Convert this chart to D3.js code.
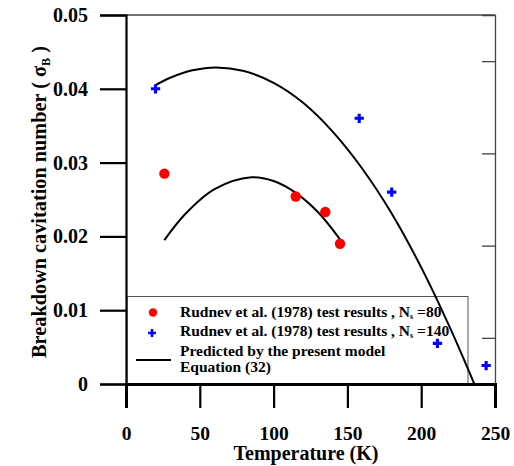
<!DOCTYPE html>
<html>
<head>
<meta charset="utf-8">
<script src="https://cdn.jsdelivr.net/npm/d3@7"></script>
<style>
  html, body { margin: 0; padding: 0; background: #fff; }
  svg text { font-family: "Times New Roman", "Liberation Serif", Times, "DejaVu Serif", serif; font-weight: bold; }
</style>
</head>
<body>
<svg id="chart" width="514" height="466"></svg>
<script>
// Rudnev et al. (1978) test results, Ns = 80
const tempNs80 = [26, 115, 135, 145];
const sigmaNs80 = [0.0285, 0.0254, 0.0233, 0.0190];

// Rudnev et al. (1978) test results, Ns = 140
const tempNs140 = [20, 158, 180, 211, 244];
const sigmaNs140 = [0.0400, 0.0360, 0.0260, 0.0055, 0.0025];

// Model prediction, Equation (32), upper branch
const tempModelA = [20, 30, 45, 61, 80, 100, 120, 140, 160, 180, 200, 220, 236];
const sigmaModelA = [0.0405, 0.0415, 0.0425, 0.0429, 0.0424, 0.0408, 0.0381, 0.0342, 0.0292, 0.0231, 0.0158, 0.0074, 0.0];

// Model prediction, Equation (32), lower branch
const tempModelB = [26, 40, 60, 85, 100, 115, 130, 145];
const sigmaModelB = [0.0195, 0.0230, 0.0264, 0.0280, 0.0275, 0.0259, 0.0233, 0.0196];

// Axis ticks
const xTicks = [0, 50, 100, 150, 200, 250];
const yTicks = [0, 0.01, 0.02, 0.03, 0.04, 0.05];
const rightTicks = [0.5, 1.5, 2.5, 3.5];

const FONT = "'Times New Roman', 'Liberation Serif', Times, 'DejaVu Serif', serif";
const svg = d3.select("#chart");

const x = d3.scaleLinear().domain([0, 250]).range([126, 495]);
const y = d3.scaleLinear().domain([0, 0.05]).range([384, 15]);
const yRight = d3.scaleLinear().domain([0, 4]).range([384, 15]);

// Frame: thin top border
svg.append("line").attr("x1", x(0)).attr("x2", x(250)).attr("y1", y(0.05)).attr("y2", y(0.05))
  .attr("stroke", "#444").attr("stroke-width", 1.3);

// Right axis with inward ticks, unlabeled
const rAxis = svg.append("g").attr("transform", `translate(${x(250)},0)`)
  .call(d3.axisRight(yRight).tickValues(rightTicks).tickSize(-13).tickFormat(""));
rAxis.select(".domain").attr("stroke", "#444").attr("stroke-width", 1.3);
rAxis.selectAll(".tick line").attr("stroke", "#444").attr("stroke-width", 1.3);

// Legend box
const legend = svg.append("g");
legend.append("rect").attr("x", 127).attr("y", 296.5).attr("width", 341).attr("height", 88)
  .attr("fill", "none").attr("stroke", "#555").attr("stroke-width", 1);

// Left axis
const yAxis = svg.append("g").attr("transform", `translate(${x(0)},0)`)
  .call(d3.axisLeft(y).tickValues(yTicks).tickSize(26).tickPadding(12)
    .tickFormat(d => d === 0 ? "0" : d3.format(".2f")(d)));
yAxis.attr("font-family", FONT).attr("font-size", 20);
yAxis.select(".domain").attr("stroke", "#000").attr("stroke-width", 2.2);
yAxis.selectAll(".tick line").attr("stroke", "#000").attr("stroke-width", 2.2);
yAxis.selectAll(".tick text").attr("fill", "#000");

// Bottom axis
const xAxis = svg.append("g").attr("transform", `translate(0,${y(0)})`)
  .call(d3.axisBottom(x).tickValues(xTicks).tickSize(24).tickPadding(18));
xAxis.attr("font-family", FONT).attr("font-size", 19.5);
xAxis.select(".domain").attr("stroke", "#000").attr("stroke-width", 3);
xAxis.selectAll(".tick line").attr("stroke", "#000").attr("stroke-width", 2.2);
xAxis.selectAll(".tick text").attr("fill", "#000");

// Axis titles
svg.append("text").attr("x", 306).attr("y", 460).attr("text-anchor", "middle")
  .attr("font-size", 20).text("Temperature (K)");

const yTitle = svg.append("text")
  .attr("transform", "translate(46,202) rotate(-90)")
  .attr("text-anchor", "middle").attr("font-size", 20.3);
yTitle.append("tspan").text("Breakdown cavitation number ( \u03C3");
yTitle.append("tspan").attr("font-size", 12).attr("dy", 4).text("B");
yTitle.append("tspan").attr("dy", -4).text(" )");

// Model curves
const line = d3.line().x(d => x(d[0])).y(d => y(d[1])).curve(d3.curveCatmullRom);
svg.append("path").datum(tempModelA.map((t, i) => [t, sigmaModelA[i]]))
  .attr("d", line).attr("fill", "none").attr("stroke", "#000").attr("stroke-width", 2);
svg.append("path").datum(tempModelB.map((t, i) => [t, sigmaModelB[i]]))
  .attr("d", line).attr("fill", "none").attr("stroke", "#000").attr("stroke-width", 2);

// Measured points
const plus = d3.symbol().type(d3.symbolCross).size(48);
svg.append("g").selectAll("circle").data(tempNs80.map((t, i) => [t, sigmaNs80[i]]))
  .join("circle").attr("cx", d => x(d[0])).attr("cy", d => y(d[1])).attr("r", 5.2).attr("fill", "#ff0000");
svg.append("g").selectAll("path").data(tempNs140.map((t, i) => [t, sigmaNs140[i]]))
  .join("path").attr("transform", d => `translate(${x(d[0])},${y(d[1])})`)
  .attr("d", plus).attr("fill", "#0000ff");

// Legend entries
legend.append("circle").attr("cx", 153).attr("cy", 312.5).attr("r", 4.2).attr("fill", "#ff0000");
legend.append("path").attr("transform", "translate(152,333)")
  .attr("d", d3.symbol().type(d3.symbolCross).size(34)).attr("fill", "#0000ff");
legend.append("line").attr("x1", 136).attr("x2", 171).attr("y1", 360).attr("y2", 360)
  .attr("stroke", "#000").attr("stroke-width", 2);

function entry(yPos, n) {
  const t = legend.append("text").attr("x", 180).attr("y", yPos).attr("font-size", 15.5);
  t.append("tspan").text("Rudnev et al. (1978) test results , N");
  t.append("tspan").attr("font-size", 8).attr("dy", 2).text("s");
  t.append("tspan").attr("dy", -2).text(" =" + n);
}
entry(317, 80);
entry(336, 140);
legend.append("text").attr("x", 180).attr("y", 356).attr("font-size", 15.5).text("Predicted by the present model");
legend.append("text").attr("x", 180).attr("y", 372).attr("font-size", 15.5).text("Equation (32)");
</script>
</body>
</html>
